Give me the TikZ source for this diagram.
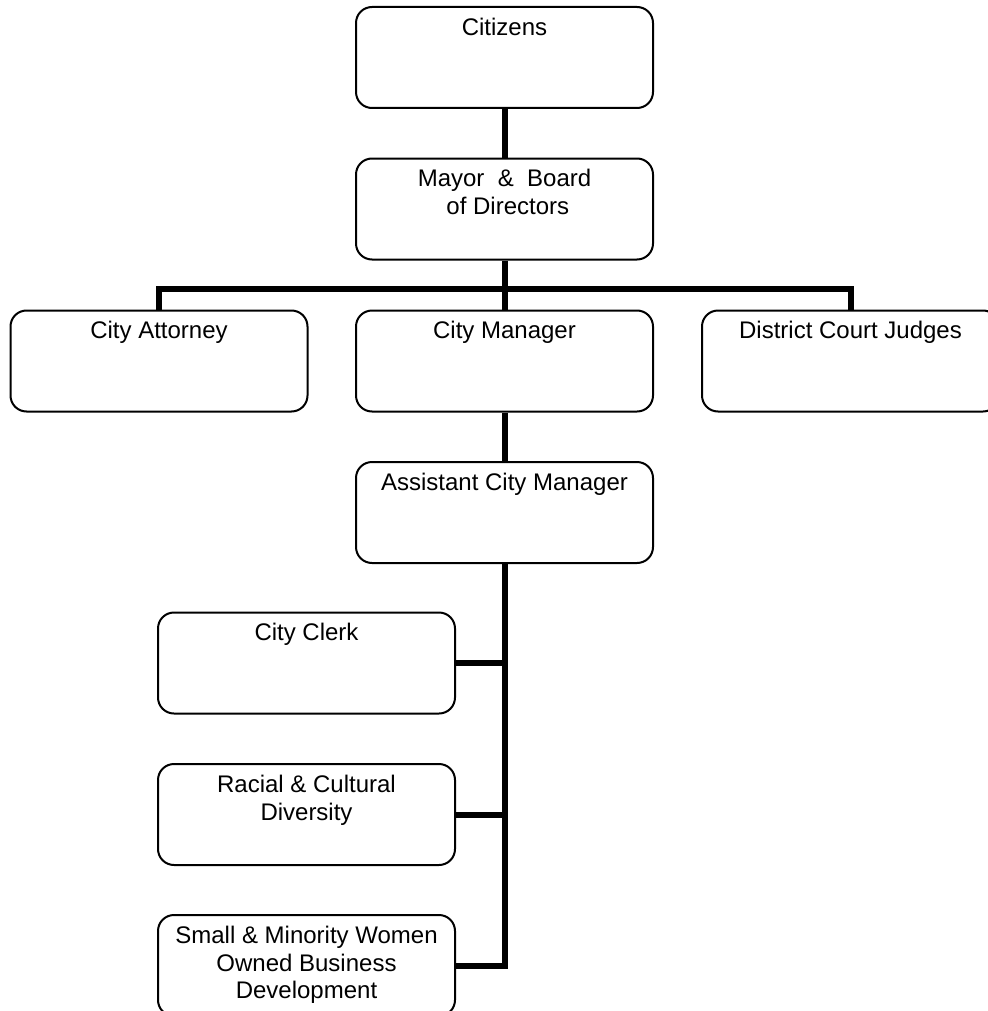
\documentclass[tikz,border=0pt]{standalone}
\usepackage{fontspec}
\setmainfont{Liberation Sans}
\usetikzlibrary{positioning}
\newcommand{\unitWidth}{148.5pt}
\newcommand{\unitHeight}{50.5pt}

\begin{document}
\begin{tikzpicture}[x=0.5pt, y=-0.5pt,
		unit/.style={draw, line width=1pt, rounded corners=8pt, minimum width=\unitWidth, minimum height=\unitHeight, inner sep=0pt},
		title/.style={anchor=north, align=center, inner sep=0pt, yshift=-5.8pt, font=\fontsize{12}{13.8}\selectfont},
		link/.style={line width=3pt}]
		\useasboundingbox (0,0) rectangle (987,1011);
		%top of the chart
		\node[unit, label={[title]north:Citizens}] (citizens) at (504.5,57.5) {};
		\node[unit, label={[title]north:{Mayor~~\&~~Board\\~of Directors}}] (mayor) at (504.5,209) {};
		%second row
		\node[unit, label={[title]north:City Attorney}] (attorney) at (159,361) {};
		\node[unit, label={[title]north:City Manager}] (manager) at (504.5,361) {};
		\node[unit, label={[title]north:District Court Judges}] (judges) at (850.5,361) {};
		\node[unit, label={[title]north:Assistant City Manager}] (assistant) at (504.5,512.5) {};
		%offices
		\node[unit, label={[title]north:City Clerk}] (clerk) at (306.5,663) {};
		\node[unit, label={[title]north:{Racial \& Cultural\\Diversity}}] (diversity) at (306.5,814.5) {};
		\node[unit, label={[title]north:{Small \& Minority Women\\Owned Business\\Development}}] (business) at (306.5,965.5) {};
		%connectors
		\coordinate (bus) at (504.5,289);
		\draw[link] (citizens) -- (mayor);
		\draw[link] (mayor) -- (bus) -| (attorney);
		\draw[link] (bus) -| (judges);
		\draw[link] (bus) -- (manager);
		\draw[link] (manager) -- (assistant);
		\draw[link] (assistant) |- (clerk);
		\draw[link] (assistant) |- (diversity);
		\draw[link] (assistant) |- (business);
	\end{tikzpicture}
\end{document}
